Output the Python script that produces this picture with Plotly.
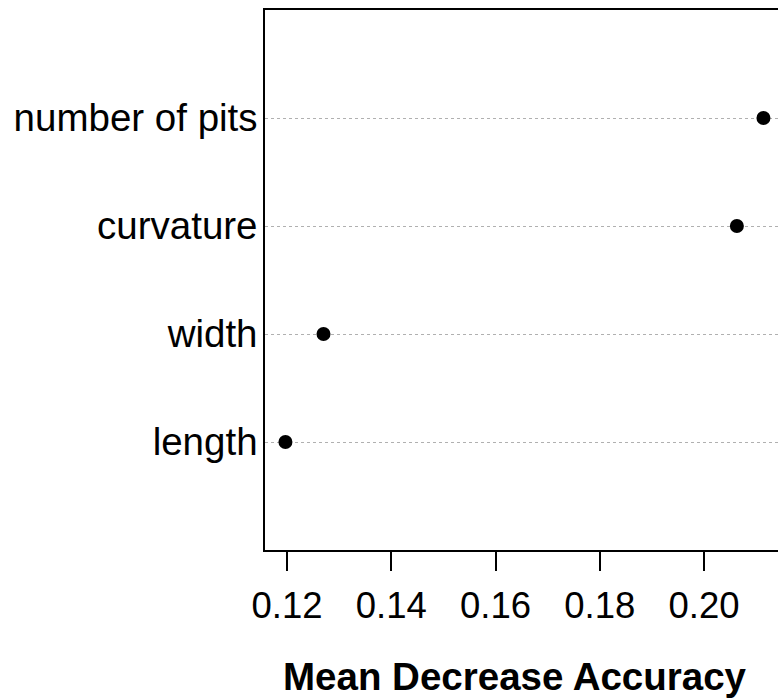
import plotly.graph_objects as go

features = ["length", "width", "curvature", "number of pits"]
importance = [0.1197, 0.1270, 0.2063, 0.2114]
positions = [1, 2, 3, 4]
tick_vals = [0.12, 0.14, 0.16, 0.18, 0.20]
tick_text = ["0.12", "0.14", "0.16", "0.18", "0.20"]

font_family = "Liberation Sans, Arial, sans-serif"

fig = go.Figure()
fig.add_trace(go.Scatter(
    x=importance, y=positions, mode="markers",
    marker=dict(color="black", size=14, line=dict(width=0)),
    showlegend=False, hoverinfo="x+text", text=features,
))

fig.update_layout(
    width=778, height=700,
    margin=dict(l=265, r=0, t=10, b=150),
    plot_bgcolor="white", paper_bgcolor="white",
    font=dict(family=font_family, color="black"),
    xaxis=dict(
        range=[0.11578, 0.21419], tickvals=tick_vals, ticktext=tick_text,
        ticks="outside", ticklen=19, tickwidth=1.5, tickcolor="black",
        tickfont=dict(size=36.5, family=font_family, color="black"),
        ticklabelstandoff=3,
        showline=True, linecolor="black", linewidth=1.5, mirror=True,
        showgrid=False, zeroline=False,
    ),
    yaxis=dict(
        range=[0, 5], tickvals=positions, ticktext=features,
        ticks="", tickfont=dict(size=38.5, family=font_family, color="black"),
        ticklabelstandoff=-2,
        showline=True, linecolor="black", linewidth=1.5,
        showgrid=True, gridcolor="#b0b0b0", gridwidth=1, griddash="dot",
        zeroline=False,
    ),
    annotations=[dict(
        text="<b>Mean Decrease Accuracy</b>", xref="paper", yref="paper",
        x=0.487, y=0, xanchor="center", yanchor="middle", yshift=-126,
        showarrow=False, font=dict(size=38.5, family=font_family, color="black"),
    )],
)

fig.write_html(
    "out.html",
    config={"displayModeBar": False},
    post_script="document.body.style.margin='0';document.body.style.padding='0';",
)
